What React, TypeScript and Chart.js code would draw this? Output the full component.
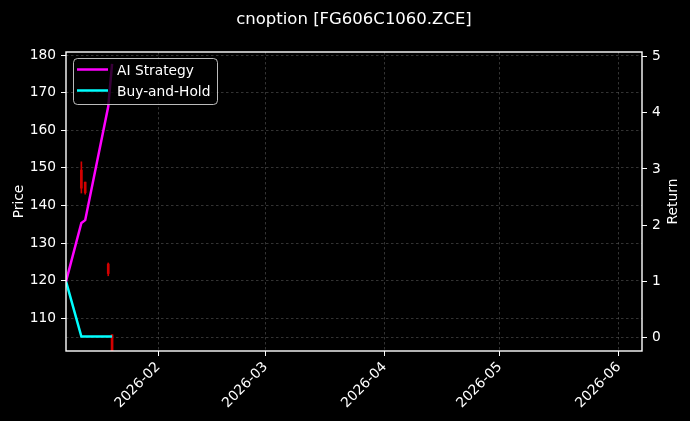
import { useEffect, useRef } from "react";
import { Chart, registerables } from "chart.js";

Chart.register(...registerables);

const chartTitle = "cnoption [FG606C1060.ZCE]";

// strategy / benchmark returns (right axis)
const dates = ["2026-01-08", "2026-01-12", "2026-01-13", "2026-01-19", "2026-01-20"];
const aiStrategy = [1.0, 2.04, 2.09, 4.11, 4.87];
const buyAndHold = [1.0, 0.02, 0.02, 0.02, 0.02];

// option price candles (left axis)
const candleDates = ["2026-01-12", "2026-01-13", "2026-01-19", "2026-01-20"];
const candleOpen = [149.4, 146.2, 124.4, 105.6];
const candleClose = [144.6, 143.4, 121.9, 99.0];
const candleHigh = [151.6, 146.2, 124.7, 105.6];
const candleLow = [143.3, 143.0, 121.3, 98.0];

const monthTicks = ["2026-02-01", "2026-03-01", "2026-04-01", "2026-05-01", "2026-06-01"];
const priceTicks = [110, 120, 130, 140, 150, 160, 170, 180];
const returnTicks = [0, 1, 2, 3, 4, 5];
const xRange = ["2026-01-08", "2026-06-07"];
const priceRange = [101.3, 180.8];
const returnRange = [-0.237, 5.08];

const FONT = "'DejaVu Sans', 'Liberation Sans', sans-serif";
const ts = (d: string) => Date.parse(d);

const framePlugin = {
  id: "frameAndText",
  afterDatasetsDraw(chart: any) {
    const { ctx, chartArea: a } = chart;
    ctx.save();
    ctx.strokeStyle = "#ffffff";
    ctx.lineWidth = 1.4;
    ctx.strokeRect(a.left, a.top, a.right - a.left, a.bottom - a.top);

    // legend box
    const lx = a.left + 7;
    const ly = a.top + 6;
    const lw = 144;
    const lh = 46;
    ctx.beginPath();
    ctx.roundRect(lx + 0.5, ly + 0.5, lw, lh, 4);
    ctx.fillStyle = "rgba(0,0,0,0.78)";
    ctx.fill();
    ctx.strokeStyle = "rgba(220,220,220,0.85)";
    ctx.lineWidth = 1;
    ctx.stroke();

    const items = chart.data.datasets.filter((d: any) => d.showInLegend);
    items.forEach((d: any, i: number) => {
      const ry = ly + 11.5 + i * 21;
      ctx.beginPath();
      ctx.strokeStyle = d.borderColor;
      ctx.lineWidth = 2.5;
      ctx.moveTo(lx + 4, ry);
      ctx.lineTo(lx + 35, ry);
      ctx.stroke();
      ctx.fillStyle = "#ffffff";
      ctx.font = `13.8px ${FONT}`;
      ctx.textAlign = "left";
      ctx.textBaseline = "alphabetic";
      ctx.fillText(d.label, lx + 44, ly + 17 + i * 21);
    });

    // title and axis labels
    ctx.fillStyle = "#ffffff";
    ctx.font = `16.5px ${FONT}`;
    ctx.textAlign = "center";
    ctx.fillText(chartTitle, (a.left + a.right) / 2, 24);

    ctx.font = `13.8px ${FONT}`;
    const cy = (a.top + a.bottom) / 2;
    ctx.save();
    ctx.translate(23, cy);
    ctx.rotate(-Math.PI / 2);
    ctx.fillText("Price", 0, 0);
    ctx.restore();
    ctx.save();
    ctx.translate(677, cy);
    ctx.rotate(-Math.PI / 2);
    ctx.fillText("Return", 0, 0);
    ctx.restore();
    ctx.restore();
  },
};

const gridStyle = {
  color: "rgba(255,255,255,0.25)",
  lineWidth: 0.8,
  tickColor: "#ffffff",
  tickLength: 5,
  tickWidth: 1,
};

const App = () => {
  const canvasRef = useRef<HTMLCanvasElement | null>(null);
  const chartRef = useRef<Chart | null>(null);

  useEffect(() => {
    document.body.style.margin = "0";
    document.body.style.background = "#000";
    if (!canvasRef.current) return;
    if (chartRef.current) chartRef.current.destroy();

    const datasets: any[] = [
      {
        type: "bar",
        label: "wick",
        data: candleDates.map((d, i) => ({ x: ts(d), y: [candleLow[i], candleHigh[i]] })),
        backgroundColor: "#d40000",
        barThickness: 1,
        grouped: false,
        yAxisID: "yPrice",
        order: 3,
      },
      {
        type: "bar",
        label: "body",
        data: candleDates.map((d, i) => ({
          x: ts(d),
          y: [Math.min(candleOpen[i], candleClose[i]), Math.max(candleOpen[i], candleClose[i])],
        })),
        backgroundColor: "#d40000",
        barThickness: 2,
        grouped: false,
        yAxisID: "yPrice",
        order: 3,
      },
      {
        type: "line",
        label: "AI Strategy",
        showInLegend: true,
        data: dates.map((d, i) => ({ x: ts(d), y: aiStrategy[i] })),
        borderColor: "#ff00ff",
        borderWidth: 2.5,
        pointRadius: 0,
        tension: 0,
        yAxisID: "yReturn",
        order: 1,
      },
      {
        type: "line",
        label: "Buy-and-Hold",
        showInLegend: true,
        data: dates.map((d, i) => ({ x: ts(d), y: buyAndHold[i] })),
        borderColor: "#00ffff",
        borderWidth: 2.5,
        pointRadius: 0,
        tension: 0,
        yAxisID: "yReturn",
        order: 2,
      },
    ];

    chartRef.current = new Chart(canvasRef.current, {
      type: "line",
      data: { datasets },
      options: {
        responsive: false,
        animation: false,
        layout: { padding: { top: 52, left: 0, right: 0, bottom: 0 } },
        plugins: {
          legend: { display: false },
          title: { display: false },
          tooltip: { enabled: false },
        },
        scales: {
          x: {
            type: "linear",
            min: ts(xRange[0]),
            max: ts(xRange[1]),
            offset: false,
            grid: { ...gridStyle, offset: false },
            border: { display: false, dash: [2.5, 2.5] },
            afterBuildTicks: (s: any) => {
              s.ticks = monthTicks.map((m) => ({ value: ts(m) }));
            },
            afterFit: (s: any) => {
              s.height = 70;
            },
            ticks: {
              color: "#ffffff",
              font: { family: FONT, size: 13.8 },
              minRotation: 45,
              maxRotation: 45,
              autoSkip: false,
              padding: 3,
              callback: (v: any) => new Date(v).toISOString().slice(0, 7),
            },
          },
          yPrice: {
            type: "linear",
            position: "left",
            min: priceRange[0],
            max: priceRange[1],
            grid: gridStyle,
            border: { display: false, dash: [2.5, 2.5] },
            afterBuildTicks: (s: any) => {
              s.ticks = priceTicks.map((v) => ({ value: v }));
            },
            afterFit: (s: any) => {
              s.width = 66;
            },
            ticks: {
              color: "#ffffff",
              font: { family: FONT, size: 13.8 },
              padding: 5,
              callback: (v: any) => String(v),
            },
          },
          yReturn: {
            type: "linear",
            position: "right",
            min: returnRange[0],
            max: returnRange[1],
            grid: {
              ...gridStyle,
              color: (c: any) => (c.tick && c.tick.value === 0 ? "rgba(255,255,255,0.25)" : "rgba(0,0,0,0)"),
            },
            border: { display: false, dash: [2.5, 2.5] },
            afterBuildTicks: (s: any) => {
              s.ticks = returnTicks.map((v) => ({ value: v }));
            },
            afterFit: (s: any) => {
              s.width = 48;
            },
            ticks: {
              color: "#ffffff",
              font: { family: FONT, size: 13.8 },
              padding: 5,
              callback: (v: any) => String(v),
            },
          },
        },
      } as any,
      plugins: [framePlugin],
    });

    return () => {
      if (chartRef.current) {
        chartRef.current.destroy();
        chartRef.current = null;
      }
    };
  }, []);

  return (
    <div style={{ width: 690, height: 421, background: "#000" }}>
      <canvas ref={canvasRef} width={690} height={421} style={{ display: "block" }}></canvas>
    </div>
  );
};

export default App;
